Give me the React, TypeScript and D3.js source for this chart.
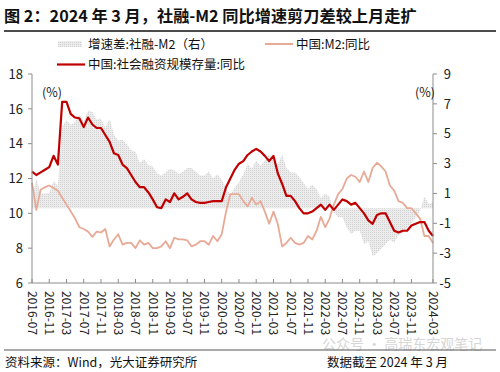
import React from 'react';
import * as d3 from 'd3';

// Monthly values, first point through 2024-03
const TSF = [
  12.4, 12.2, 12.35, 12.5, 12.65, 13.3, 12.8, 16.4, 16.4, 15.7,
  15.5, 15.45, 14.95, 15.5, 15.1, 14.9, 14.9, 14.5, 14.1, 13.45,
  13.35, 12.8, 12.6, 12.2, 11.8, 11.5, 11.5, 11.2, 10.8, 10.35,
  10.3, 10.8, 10.65, 11.15, 10.8, 10.95, 11.15, 10.8, 10.65, 10.6,
  10.6, 10.65, 10.7, 10.7, 10.7, 11.5, 12.0, 12.5, 12.85, 13.0,
  13.35, 13.55, 13.7, 13.55, 13.3, 13.0, 13.3, 12.3, 11.7, 11.0,
  11.0, 10.7, 10.3, 10.0, 10.0, 10.1, 10.3, 10.5, 10.2, 10.5,
  10.2, 10.5, 10.8, 10.7, 10.5, 10.6, 10.3, 10.0, 9.6, 9.4,
  9.9, 10.0, 10.0, 9.5, 9.0, 8.9, 9.0, 9.0, 9.3, 9.4,
  9.5, 9.5, 9.0, 8.7,
];
const M2 = [
  11.75, 10.2, 11.35, 11.5, 11.6, 11.45, 11.3, 10.9, 10.5, 10.1,
  9.7, 9.2, 9.1, 8.95, 8.65, 8.95, 8.9, 9.1, 8.1, 8.5,
  8.8, 8.2, 8.3, 8.3, 8.0, 8.45, 8.2, 8.3, 8.0, 8.0,
  8.1, 8.4, 8.0, 8.6, 8.5, 8.5, 8.45, 8.1, 8.2, 8.4,
  8.4, 8.2, 8.7, 8.4, 8.8, 10.1, 11.1, 11.1, 11.1, 10.7,
  10.4, 10.9, 10.5, 10.7, 10.1, 9.4, 10.1, 9.4, 8.1, 8.3,
  8.6, 8.3, 8.2, 8.3, 8.7, 8.5, 9.0, 9.8, 9.2, 9.7,
  10.5, 11.1, 11.4, 12.0, 12.2, 12.1, 11.8, 12.4, 11.8, 12.6,
  12.9, 12.7, 12.4, 11.6, 11.3, 10.7, 10.6, 10.3, 10.3, 10.0,
  9.7, 8.7, 8.7, 8.3,
];
const GAP = [
  0.65, 2.0, 1.0, 1.0, 1.05, 1.85, 1.5, 5.5, 5.9, 5.6,
  5.8, 6.25, 5.85, 6.55, 6.45, 5.95, 6.0, 5.4, 6.0, 4.95,
  4.55, 4.6, 4.3, 3.9, 3.8, 3.05, 3.3, 2.9, 2.8, 2.35,
  2.2, 2.4, 2.65, 2.55, 2.3, 2.45, 2.7, 2.7, 2.45, 2.2,
  2.2, 2.45, 2.0, 2.3, 1.9, 1.4, 0.9, 1.4, 1.75, 2.3,
  2.95, 2.65, 3.2, 2.85, 3.2, 3.6, 3.2, 2.9, 3.6, 2.7,
  2.4, 2.4, 2.1, 1.7, 1.3, 1.6, 1.3, 0.7, 1.0, 0.8,
  -0.3, -0.6, -0.6, -1.3, -1.7, -1.5, -1.5, -2.4, -2.2, -3.2,
  -3.0, -2.7, -2.4, -2.1, -2.3, -1.8, -1.6, -1.3, -1.0, -0.6,
  -0.2, 0.8, 0.3, 0.4,
];
const TICK_INDEX = [0, 4, 8, 12, 16, 20, 24, 28, 32, 36, 40, 44, 48, 52, 56, 60, 64, 68, 72, 76, 80, 84, 88, 93];
const TICK_LABELS = [
  '2016-07', '2016-11', '2017-03', '2017-07', '2017-11', '2018-03', '2018-07', '2018-11',
  '2019-03', '2019-07', '2019-11', '2020-03', '2020-07', '2020-11', '2021-03', '2021-07',
  '2021-11', '2022-03', '2022-07', '2022-11', '2023-03', '2023-07', '2023-11', '2024-03',
];
const LEFT_TICKS = [6, 8, 10, 12, 14, 16, 18];
const RIGHT_TICKS = [-5, -3, -1, 1, 3, 5, 7, 9];

const TITLE = '图 2：2024 年 3 月，社融-M2 同比增速剪刀差较上月走扩';
const LEGEND_GAP = '增速差:社融-M2（右）';
const LEGEND_M2 = '中国:M2:同比';
const LEGEND_TSF = '中国:社会融资规模存量:同比';
const SOURCE = '资料来源：Wind，光大证券研究所';
const NOTE = '数据截至 2024 年 3 月';
const WATERMARK = '公众号 · 高瑞东宏观笔记';

const FF = "'Noto Sans CJK SC', 'Noto Sans', sans-serif";
const RED = '#C00000';
const PINK = '#E8AA96';
const AXIS = '#8c8c8c';

export default function App() {
  const W = 500, H = 372;
  const L = 32, R = 433, T = 74, B = 283;
  const x = d3.scaleLinear().domain([0, TSF.length - 1]).range([L, R]);
  const yL = d3.scaleLinear().domain([6, 18]).range([B, T]);
  const yR = d3.scaleLinear().domain([-5, 9]).range([B, T]);
  const lineL = d3.line<number>().x((_, i) => x(i)).y((d) => yL(d));
  const area = d3.area<number>().x((_, i) => x(i)).y0(yR(0)).y1((d) => yR(d));

  return (
    <svg width={W} height={H} style={{ position: 'absolute', left: 0, top: 0, background: '#fff' }} fontFamily={FF}>
      <defs>
        <pattern id="dots" width="2" height="2" patternUnits="userSpaceOnUse">
          <rect width="2" height="2" fill="#ececec" />
          <rect width="1" height="1" fill="#d2d2d2" />
        </pattern>
      </defs>
      <rect width={W} height={H} fill="#fff" />
      {/* title */}
      <text x={4} y={22} fontSize={16.2} fontWeight="bold" fill="#111">{TITLE}</text>
      <line x1={4} x2={496} y1={31} y2={31} stroke="#111" strokeWidth={1.3} />

      {/* legend */}
      <rect x={58} y={41} width={24} height={6} fill="url(#dots)" />
      <text x={88} y={48.5} fontSize={12.5} fill="#111">{LEGEND_GAP}</text>
      <line x1={265} x2={293} y1={44} y2={44} stroke={PINK} strokeWidth={2} />
      <text x={296} y={48.5} fontSize={12.5} fill="#111">{LEGEND_M2}</text>
      <line x1={57} x2={85} y1={64.5} y2={64.5} stroke={RED} strokeWidth={2.2} />
      <text x={88} y={69} fontSize={12.5} fill="#111">{LEGEND_TSF}</text>

      {/* area */}
      <path d={area(GAP) || ''} fill="url(#dots)" stroke="none" />
      {/* lines */}
      <path d={lineL(M2) || ''} fill="none" stroke={PINK} strokeWidth={1.8} strokeLinejoin="round" />
      <path d={lineL(TSF) || ''} fill="none" stroke={RED} strokeWidth={2.2} strokeLinejoin="round" />

      {/* left axis */}
      <line x1={L} x2={L} y1={T} y2={B} stroke={AXIS} strokeWidth={1} />
      {LEFT_TICKS.map((t) => (
        <g key={'l' + t}>
          <line x1={L - 4} x2={L} y1={yL(t)} y2={yL(t)} stroke={AXIS} />
          <text x={23} y={yL(t)} dy="0.36em" textAnchor="end" fontSize={13} fill="#222">{t}</text>
        </g>
      ))}
      {/* right axis */}
      <line x1={R} x2={R} y1={T} y2={B} stroke={AXIS} strokeWidth={1} />
      {RIGHT_TICKS.map((t) => (
        <g key={'r' + t}>
          <line x1={R} x2={R + 4} y1={yR(t)} y2={yR(t)} stroke={AXIS} />
          <text x={451} y={yR(t)} dy="0.36em" textAnchor="end" fontSize={13} fill="#222">{t}</text>
        </g>
      ))}
      <text x={42} y={97} fontSize={12.5} fill="#222">(%)</text>
      <text x={435} y={97} fontSize={12.5} fill="#222" textAnchor="end">(%)</text>

      {/* x axis */}
      <line x1={L} x2={R} y1={B} y2={B} stroke={AXIS} strokeWidth={1} />
      {TICK_INDEX.map((idx, k) => (
        <g key={'x' + idx}>
          <line x1={x(idx)} x2={x(idx)} y1={B - 4} y2={B} stroke={AXIS} />
          <text transform={`translate(${x(idx)},${B + 8}) rotate(90)`} dy="0.35em" fontSize={12} fill="#222">{TICK_LABELS[k]}</text>
        </g>
      ))}

      {/* footer */}
      <text x={322} y={349} fontSize={14} fill="#d6d6d6">{WATERMARK}</text>
      <line x1={4} x2={496} y1={350} y2={350} stroke="#555" strokeWidth={1} />
      <text x={5} y={367} fontSize={12.5} fill="#111">{SOURCE}</text>
      <text x={327} y={367} fontSize={12.5} fill="#111">{NOTE}</text>
    </svg>
  );
}
